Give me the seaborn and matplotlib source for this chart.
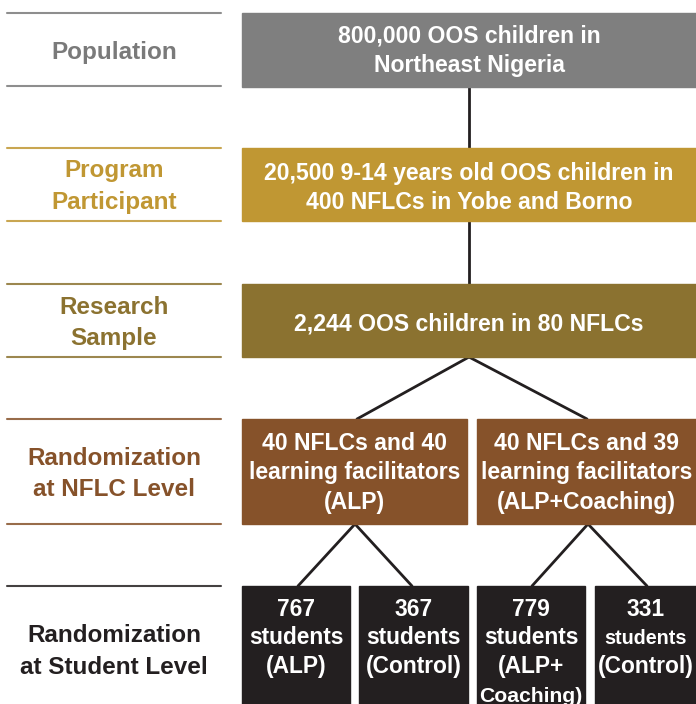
import matplotlib

matplotlib.use("Agg")
import matplotlib.pyplot as plt
import seaborn as sns
from matplotlib.patches import Rectangle

# ---- content ----
tier_labels = [
    "Population",
    "Program\nParticipant",
    "Research\nSample",
    "Randomization\nat NFLC Level",
    "Randomization\nat Student Level",
]
tier_colors = ["#7a7a7a", "#c09733", "#8b7230", "#86522a", "#231f20"]

top_texts = [
    "800,000 OOS children in\nNortheast Nigeria",
    "20,500 9-14 years old OOS children in\n400 NFLCs in Yobe and Borno",
    "2,244 OOS children in 80 NFLCs",
]
top_colors = ["#7f7f7f", "#c09733", "#8b7230"]

arm_texts = [
    "40 NFLCs and 40\nlearning facilitators\n(ALP)",
    "40 NFLCs and 39\nlearning facilitators\n(ALP+Coaching)",
]
arm_color = "#86522a"

student_counts = [767, 367, 779, 331]
student_groups = ["(ALP)", "(Control)", "(ALP+\nCoaching)", "(Control)"]
student_color = "#231f20"

# ---- layout (pixels, y down) ----
W, H = 696, 704
BX = 242
top_y = [(13, 87), (148, 221), (284, 357)]
top_base = [43, 180, 330]
arm_x = [(242, 467), (477, 696)]
arm_y = (419, 524)
arm_base = 450
stu_x = [(242, 350), (359, 468), (477, 585), (595, 696)]
stu_y0 = 586
stu_base = 616
stu_word_fs = [16.4, 16.4, 16.4, 14.2]  # size of the "students" word per box
label_lines = [(13, 86), (148, 221), (284, 357), (419, 524), (586, None)]
label_base = [59, 177, 314, 465, 642]

sns.set_theme(style="white")
plt.rcParams["font.family"] = ["Liberation Sans", "DejaVu Sans"]

fig = plt.figure(figsize=(W / 100, H / 100), dpi=100)
ax = fig.add_axes([0, 0, 1, 1])
ax.set_xlim(0, W)
ax.set_ylim(H, 0)
ax.axis("off")
renderer = fig.canvas.get_renderer()


def stacked(x, y0, text, step, fontsize, max_w=None, sizes=None, **kw):
    for k, line in enumerate(text.split("\n")):
        fs = sizes[k] if sizes and k < len(sizes) else fontsize
        t = ax.text(x, y0 + k * step, line, ha="center", va="baseline",
                    fontweight="bold", fontsize=fs, zorder=3, **kw)
        if max_w is not None:
            # Liberation runs a little wider than the original face
            w = t.get_window_extent(renderer).width
            if w > max_w - 5:
                t.set_fontsize(fs * (max_w - 5) / w)


# left tier labels with rules
for label, color, (ya, yb), yb0 in zip(tier_labels, tier_colors, label_lines, label_base):
    for yy in (ya, yb):
        if yy is not None:
            ax.plot([7, 221], [yy, yy], color=color, lw=1.5, alpha=0.85)
    stacked(114, yb0, label, 31.5, 17.5, color=color)

# connector lines
cx = (BX + W) / 2
link = dict(color="#231f20", lw=2, zorder=1)
ax.plot([cx, cx], [87, 148], **link)
ax.plot([cx, cx], [221, 284], **link)
ax.plot([cx, 357], [357, 419], **link)
ax.plot([cx, 587], [357, 419], **link)
ax.plot([355, 298], [524, 586], **link)
ax.plot([355, 412], [524, 586], **link)
ax.plot([588, 532], [524, 586], **link)
ax.plot([588, 647], [524, 586], **link)

# top full-width boxes
for text, color, (y0, y1), yb0 in zip(top_texts, top_colors, top_y, top_base):
    ax.add_patch(Rectangle((BX, y0), W - BX, y1 - y0, color=color, zorder=2))
    stacked(cx, yb0, text, 29, 16.6, color="white")

# arm boxes
for text, (x0, x1) in zip(arm_texts, arm_x):
    ax.add_patch(Rectangle((x0, arm_y[0]), x1 - x0, arm_y[1] - arm_y[0], color=arm_color, zorder=2))
    stacked((x0 + x1) / 2, arm_base, text, 29.5, 16.6, color="white")

# student boxes
for n, grp, (x0, x1), wfs in zip(student_counts, student_groups, stu_x, stu_word_fs):
    ax.add_patch(Rectangle((x0, stu_y0), x1 - x0, H - stu_y0 + 5, color=student_color, zorder=2))
    stacked((x0 + x1) / 2, stu_base, f"{n}\nstudents\n{grp}", 28.5, 16.4,
            max_w=x1 - x0, sizes=[16.4, wfs], color="white")

fig.savefig("out.png", dpi=100)
